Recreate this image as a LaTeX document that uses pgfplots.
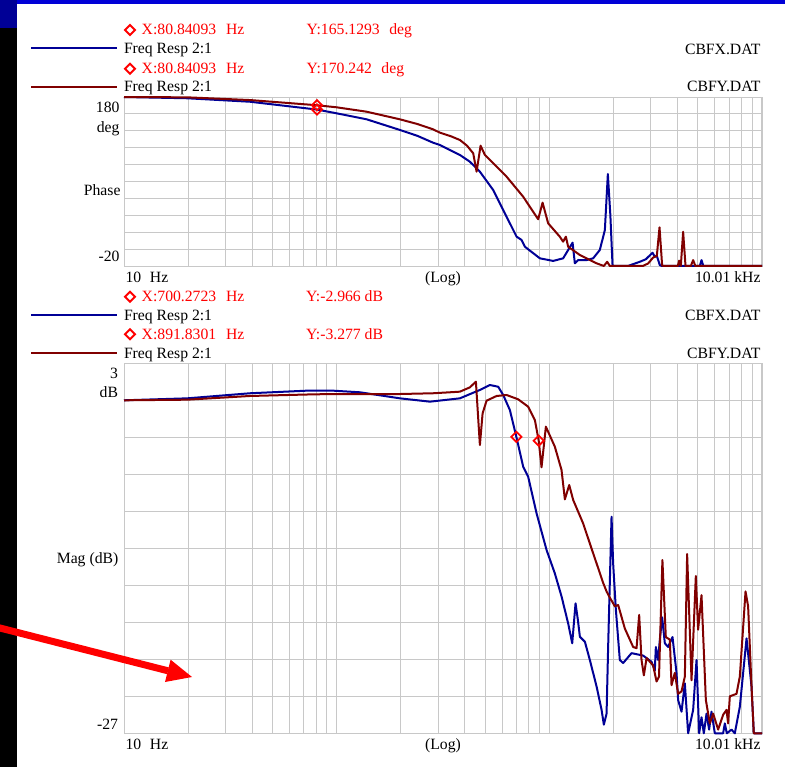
\documentclass[border=0pt]{standalone}
\usepackage{pgfplots}
\pgfplotsset{compat=1.18}
\usepackage{fontspec}
\setmainfont{Liberation Serif}
\definecolor{cblue}{RGB}{0,0,150}
\definecolor{cred}{RGB}{128,0,0}
\definecolor{gridc}{RGB}{200,200,200}
\definecolor{topblue}{RGB}{0,0,215}
\definecolor{cornerblue}{RGB}{0,0,150}
\begin{document}
\begin{tikzpicture}[every node/.style={font=\fontsize{15.7}{18}\selectfont, inner sep=0pt, outer sep=0pt}]
\useasboundingbox (0,0) rectangle (785pt,-767pt);
\fill[white] (0,0) rectangle (785pt,-767pt);
\fill[topblue] (0,0) rectangle (785pt,-4pt);
\fill[cornerblue] (0,0) rectangle (17pt,-28pt);
\fill[black] (0,-28pt) rectangle (17pt,-767pt);

% ---------- Phase plot ----------
\begin{axis}[scale only axis, xmode=log, xmin=10, xmax=10010, width=638pt,
  xtick={20,30,40,50,60,70,80,90,100,200,300,400,500,600,700,800,900,1000,2000,3000,4000,5000,6000,7000,8000,9000,10000},
  xticklabels={}, yticklabels={}, major tick length=0pt,
  xmajorgrids, ymajorgrids, grid style={gridc, line width=0.9pt},
  axis line style={gridc, line width=0.9pt}, clip=false,
  at={(124pt,-266pt)}, anchor=south west, height=169pt,
  ymin=-20, ymax=180, ytick={-20,0,20,40,60,80,100,120,140,160,180}]
\addplot[cblue, line width=2pt, line join=round] coordinates {
(10,180) (19.85,178.5) (39.1,174.4) (80.84,165.13) (100,160.7) (138.4,153.6) (198.4,141) (240,134) (283.7,126) (306,123.2) (341,117.3) (380,111.4) (423.3,103.4) (471.7,91.6) (544.6,70) (630,38.3) (702,14.7) (741,10.8) (768,2.8) (903,-10.9) (1043,-14) (1162,-10.9) (1287,7.6) (1319,-16.8) (1368,-12.9) (1498,-13) (1608,-10.9) (1729,-1) (1826,22.6) (1886,88.9) (1938,40) (1985,-20) (2342,-20) (2667,-15) (2846,-12) (3059,-4.3) (3136,-9) (3205,-8) (3311,-19) (3383,-20) (5105,-20) (5200,-13) (5303,-20) (10010,-20)
};
\addplot[cred, line width=2pt, line join=round] coordinates {
(10,180) (19.85,179.6) (39.1,176.4) (80.84,170.24) (100,167.8) (138.4,162.6) (198.4,153.6) (240,148) (283.7,141.8) (306,137.8) (345,133.5) (380,129.1) (410,122.5) (438.8,113.4) (455.2,91.6) (475.3,122.4) (498.1,111.4) (630,85.7) (754,62) (886.9,35.3) (930,55) (988,30.5) (1121,14.7) (1162,8.8) (1197,14.7) (1227,2.8) (1393,-7) (1669,-16.8) (1806,-20) (1872,-15) (1927,-20) (2754,-20) (2917,-17) (3080,-10) (3205,-8) (3300,25.8) (3395,-19.5) (3458,-20) (4023,-20) (4080,-13.7) (4156,-20) (4261,20.6) (4373,-20) (4632,-20) (4749,-13) (4863,-20) (10010,-20)
};
\addplot[only marks, mark=square, mark size=3.6pt, mark options={red, rotate=45, line width=1.8pt}] coordinates {(80.84,165.13) (80.84,170.24)};
\end{axis}

% ---------- Magnitude plot ----------
\begin{axis}[scale only axis, xmode=log, xmin=10, xmax=10010, width=638pt,
  xtick={20,30,40,50,60,70,80,90,100,200,300,400,500,600,700,800,900,1000,2000,3000,4000,5000,6000,7000,8000,9000,10000},
  xticklabels={}, yticklabels={}, major tick length=0pt,
  xmajorgrids, ymajorgrids, grid style={gridc, line width=0.9pt},
  axis line style={gridc, line width=0.9pt}, clip=false,
  at={(124pt,-733.3pt)}, anchor=south west, height=370pt,
  ymin=-27, ymax=3, ytick={-27,-24,-21,-18,-15,-12,-9,-6,-3,0,3}]
\addplot[cblue, line width=2pt, line join=round] coordinates {
(10,0) (19.85,0.16) (39.1,0.57) (72.3,0.78) (96.4,0.78) (128.7,0.65) (198.4,0.16) (274.6,-0.11) (380,0.16) (471.7,0.84) (525.7,1.24) (575.2,1.1) (607.2,0.43) (652.8,-0.79) (700.27,-2.966) (754,-5.38) (795.9,-6.2) (871.6,-9.17) (971.2,-12.14) (1062,-14.03) (1142,-15.9) (1227,-18.09) (1282,-19.7) (1329,-16.46) (1363,-17.8) (1393,-19.17) (1471,-19.58) (1552,-21.06) (1669,-23.2) (1762,-25.1) (1806,-26.3) (1860,-25.4) (1892,-19.98) (1963,-9.44) (1997,-13.2) (2057,-17.0) (2147,-21.06) (2226,-21.3) (2438,-20.5) (2764,-20.7) (3027,-21.2) (3136,-21.9) (3171,-20.0) (3251,-21.06) (3311,-19.4) (3395,-17.6) (3496,-19.7) (3622,-20) (3799,-19.2) (3968,-22.1) (4036,-24.3) (4188,-25.25) (4341,-22.95) (4498,-27) (4749,-25.1) (4926,-21.06) (5068,-27) (5200,-25.7) (5332,-27) (5490,-25.4) (5646,-26.7) (5794,-25.25) (6006,-27) (6571,-27) (6693,-26.2) (6839,-27) (7196,-26.7) (7457,-27) (7874,-24.85) (8467,-19.3) (8936,-23.2) (9161,-27) (10010,-27)
};
\addplot[cred, line width=2pt, line join=round] coordinates {
(10,0) (19.85,0.05) (39.1,0.35) (80.5,0.49) (198.4,0.51) (283.7,0.57) (341,0.65) (380,0.70) (423.3,1.05) (451.8,1.51) (471.7,-3.63) (485.8,-1.06) (507.2,-0.03) (565.3,0.35) (630,0.43) (714.3,0.08) (795.9,-0.52) (855.7,-1.6) (891.83,-3.277) (919.6,-5.43) (963.9,-2.14) (1062,-3.76) (1142,-5.65) (1184,-8.03) (1241,-6.87) (1296,-8.09) (1443,-9.98) (1608,-12.4) (1729,-14.0) (1792,-14.8) (1860,-15.5) (1927,-16.0) (2034,-16.7) (2109,-16.6) (2266,-18.5) (2480,-20.0) (2573,-20.1) (2647,-17.4) (2716,-21.06) (2785,-22.3) (2868,-20.9) (3080,-21.5) (3195,-22.8) (3282,-22.4) (3405,-12.95) (3533,-19.2) (3690,-19.4) (3758,-23.1) (3895,-22.1) (4036,-23.8) (4188,-23.6) (4341,-22.4) (4450,-12.47) (4667,-22.7) (4889,-14.25) (5012,-18.6) (5200,-15.8) (5450,-24.3) (5690,-26.2) (5897,-25.4) (6226,-26.7) (6571,-25.5) (6817,-25.1) (6936,-26.2) (7066,-24.0) (7596,-23.8) (7874,-22.4) (8375,-15.5) (8613,-16.7) (8936,-23.2) (9161,-27) (10010,-27)
};
\addplot[only marks, mark=square, mark size=3.6pt, mark options={red, rotate=45, line width=1.8pt}] coordinates {(700.27,-2.966) (891.83,-3.277)};
\end{axis}

% ---------- header of phase plot ----------
\draw[red, line width=2pt] (130pt,-25pt) -- (135pt,-30pt) -- (130pt,-35pt) -- (125pt,-30pt) -- cycle;
\node[anchor=base west, red] at (141.7pt,-35pt) {X:80.84093};
\node[anchor=base west, red] at (226pt,-35pt) {Hz};
\node[anchor=base west, red] at (306.7pt,-35pt) {Y:165.1293\hspace{9.5pt}deg};
\draw[cblue, line width=2pt] (31pt,-48.3pt) -- (117pt,-48.3pt);
\node[anchor=base west] at (124pt,-54pt) {Freq Resp 2:1};
\node[anchor=base east] at (760.5pt,-54.3pt) {CBFX.DAT};
\draw[red, line width=2pt] (130pt,-63.7pt) -- (135pt,-68.7pt) -- (130pt,-73.7pt) -- (125pt,-68.7pt) -- cycle;
\node[anchor=base west, red] at (141.7pt,-73.3pt) {X:80.84093};
\node[anchor=base west, red] at (226pt,-73.3pt) {Hz};
\node[anchor=base west, red] at (306.7pt,-73.3pt) {Y:170.242\hspace{9.5pt}deg};
\draw[cred, line width=2pt] (31pt,-86.7pt) -- (117pt,-86.7pt);
\node[anchor=base west] at (124pt,-91.7pt) {Freq Resp 2:1};
\node[anchor=base east] at (760.5pt,-91.7pt) {CBFY.DAT};
% phase y labels
\node[anchor=base east] at (119.5pt,-112.5pt) {180};
\node[anchor=base east] at (119.5pt,-132.3pt) {deg};
\node[anchor=base east] at (120.5pt,-196pt) {Phase};
\node[anchor=base east] at (119.5pt,-261.7pt) {-20};
% phase x labels
\node[anchor=base west] at (125.5pt,-282.3pt) {10\hspace{8.8pt}Hz};
\node[anchor=base] at (443pt,-282.3pt) {(Log)};
\node[anchor=base east] at (760.5pt,-282.3pt) {10.01 kHz};

% ---------- header of magnitude plot ----------
\draw[red, line width=2pt] (130pt,-291.7pt) -- (135pt,-296.7pt) -- (130pt,-301.7pt) -- (125pt,-296.7pt) -- cycle;
\node[anchor=base west, red] at (141.7pt,-301.7pt) {X:700.2723};
\node[anchor=base west, red] at (226pt,-301.7pt) {Hz};
\node[anchor=base west, red] at (306pt,-301.7pt) {Y:-2.966 dB};
\draw[cblue, line width=2pt] (31pt,-315pt) -- (117pt,-315pt);
\node[anchor=base west] at (124pt,-321pt) {Freq Resp 2:1};
\node[anchor=base east] at (760.5pt,-321pt) {CBFX.DAT};
\draw[red, line width=2pt] (130pt,-329.3pt) -- (135pt,-334.3pt) -- (130pt,-339.3pt) -- (125pt,-334.3pt) -- cycle;
\node[anchor=base west, red] at (141.7pt,-339.3pt) {X:891.8301};
\node[anchor=base west, red] at (226pt,-339.3pt) {Hz};
\node[anchor=base west, red] at (306pt,-339.3pt) {Y:-3.277 dB};
\draw[cred, line width=2pt] (31pt,-352.7pt) -- (117pt,-352.7pt);
\node[anchor=base west] at (124pt,-359pt) {Freq Resp 2:1};
\node[anchor=base east] at (760.5pt,-359pt) {CBFY.DAT};
% mag y labels
\node[anchor=base east] at (118pt,-379pt) {3};
\node[anchor=base east] at (118pt,-397.3pt) {dB};
\node[anchor=base east] at (118.3pt,-563.3pt) {Mag (dB)};
\node[anchor=base east] at (118pt,-729.3pt) {-27};
% mag x labels
\node[anchor=base west] at (125.5pt,-749pt) {10\hspace{8.8pt}Hz};
\node[anchor=base] at (443pt,-749pt) {(Log)};
\node[anchor=base east] at (760.5pt,-749pt) {10.01 kHz};

% ---------- red arrow annotation ----------
\draw[red, line width=7pt] (-2pt,-627.5pt) -- (168pt,-670.8pt);
\fill[red] (192pt,-677pt) -- (165pt,-682pt) -- (170.6pt,-659.7pt) -- cycle;
\end{tikzpicture}
\end{document}
